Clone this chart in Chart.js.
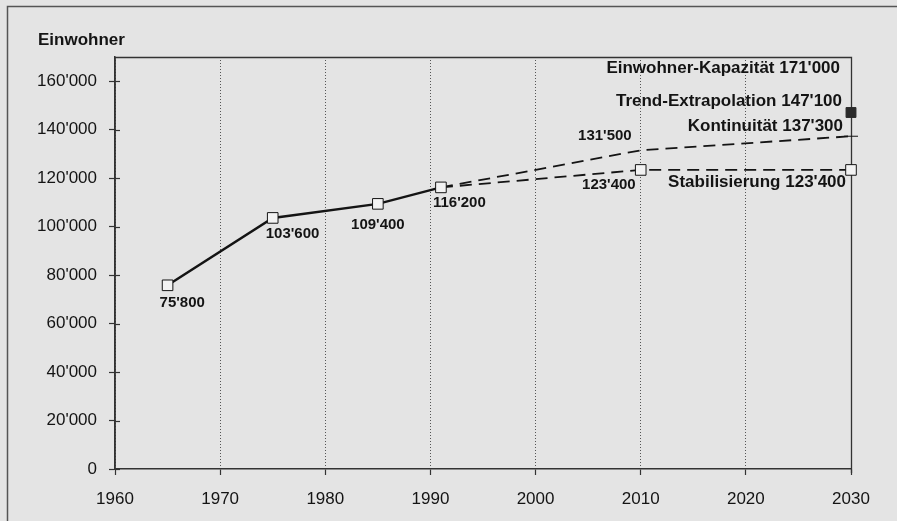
<!DOCTYPE html>
<html>
<head>
<meta charset="utf-8">
<script src="https://cdn.jsdelivr.net/npm/chart.js@4/dist/chart.umd.min.js"></script>
<style>
  html, body { margin: 0; padding: 0; background: #e4e4e4; }
  canvas { display: block; }
</style>
</head>
<body>
<canvas id="c" width="897" height="521"></canvas>
<script>
// ---- data ----
const years = [1965, 1975, 1985, 1991];
const population = [75800, 103600, 109400, 116200];
const forecastYears = [1991, 2010, 2030];
const continuity = [116200, 131500, 137300];
const stabilization = [116200, 123400, 123400];
const trendYear = 2030;
const trendValue = 147100;
const capacityValue = 171000;
const yTickValues = [0, 20000, 40000, 60000, 80000, 100000, 120000, 140000, 160000];
const xTickValues = [1960, 1970, 1980, 1990, 2000, 2010, 2020, 2030];
const scenarioNames = ['Einwohner-Kapazität', 'Trend-Extrapolation', 'Kontinuität', 'Stabilisierung'];
const scenarioValues = [capacityValue, trendValue, continuity[2], stabilization[2]];
const yTitle = 'Einwohner';

const fmt = v => {
  const s = String(Math.round(v));
  if (s.length <= 3) return s;
  return s.slice(0, s.length - 3) + "'" + s.slice(s.length - 3);
};

const FONT = '"Liberation Sans", Arial, Helvetica, sans-serif';
const INK = '#141414';
const BG = '#e4e4e4';

const decor = {
  id: 'decor',
  beforeDraw(chart) {
    const ctx = chart.ctx;
    ctx.save();
    ctx.fillStyle = BG;
    ctx.fillRect(0, 0, chart.width, chart.height);
    ctx.strokeStyle = '#555';
    ctx.lineWidth = 1.5;
    ctx.beginPath();
    ctx.moveTo(7.5, chart.height);
    ctx.lineTo(7.5, 6.5);
    ctx.lineTo(chart.width, 6.5);
    ctx.stroke();
    ctx.restore();
  },
  beforeDatasetsDraw(chart) {
    const ctx = chart.ctx;
    const a = chart.chartArea;
    const ys = chart.scales.y;
    ctx.save();
    ctx.strokeStyle = '#333';
    ctx.lineWidth = 1.3;
    ctx.beginPath();
    ctx.moveTo(a.left, a.top + 0.5);
    ctx.lineTo(a.right + 0.5, a.top + 0.5);
    ctx.lineTo(a.right + 0.5, a.bottom + 4);
    ctx.stroke();
    ctx.beginPath();
    ctx.lineWidth = 1.5;
    ctx.moveTo(a.left, a.top);
    ctx.lineTo(a.left, a.bottom);
    ctx.stroke();
    ctx.lineWidth = 1.2;
    ys.ticks.forEach(t => {
      const py = Math.round(ys.getPixelForValue(t.value)) + 0.5;
      ctx.beginPath();
      ctx.moveTo(a.left, py);
      ctx.lineTo(a.left + 5, py);
      ctx.stroke();
    });
    ctx.restore();
  },
  afterDatasetsDraw(chart) {
    const ctx = chart.ctx;
    const xs = chart.scales.x, ys = chart.scales.y;
    ctx.save();
    ctx.fillStyle = INK;
    ctx.font = 'bold 17px ' + FONT;
    ctx.textBaseline = 'middle';
    ctx.textAlign = 'left';
    ctx.fillText(yTitle, 38, 40);

    ctx.font = 'bold 15px ' + FONT;
    const obsOffsets = [[-8, 18, 'left'], [-7, 16, 'left'], [0, 21, 'center'], [-8, 15, 'left']];
    years.forEach((yr, i) => {
      const px = xs.getPixelForValue(yr), py = ys.getPixelForValue(population[i]);
      const o = obsOffsets[i];
      ctx.textAlign = o[2];
      ctx.fillText(fmt(population[i]), px + o[0], py + o[1]);
    });
    ctx.textAlign = 'right';
    const px = xs.getPixelForValue(forecastYears[1]);
    ctx.fillText(fmt(continuity[1]), px - 9, ys.getPixelForValue(continuity[1]) - 14);
    ctx.fillText(fmt(stabilization[1]), px - 5, ys.getPixelForValue(stabilization[1]) + 15);

    ctx.font = 'bold 17px ' + FONT;
    const rx = xs.getPixelForValue(2030);
    const scenOffsets = [[-11, 14], [-9, -11], [-8, -10], [-5, 12]];
    scenarioNames.forEach((n, i) => {
      const o = scenOffsets[i];
      ctx.fillText(n + ' ' + fmt(scenarioValues[i]), rx + o[0], ys.getPixelForValue(scenarioValues[i]) + o[1]);
    });
    ctx.restore();
  }
};

const xy = (xsArr, ysArr) => xsArr.map((x, i) => ({ x, y: ysArr[i] }));

new Chart(document.getElementById('c'), {
  type: 'line',
  data: {
    datasets: [
      {
        label: 'Kontinuität',
        data: xy(forecastYears, continuity),
        borderColor: INK,
        borderWidth: 1.8,
        borderDash: [12, 7],
        pointStyle: 'line',
        pointRadius: [0, 0, 7],
        pointBorderColor: INK,
        pointBorderWidth: 1,
        clip: false,
        order: 3
      },
      {
        label: 'Stabilisierung',
        data: xy(forecastYears, stabilization),
        borderColor: INK,
        borderWidth: 1.8,
        borderDash: [12, 7],
        pointStyle: 'rect',
        pointRadius: [0, 7.5, 7.5],
        pointBackgroundColor: '#f2f2f2',
        pointBorderColor: INK,
        pointBorderWidth: 1,
        clip: false,
        order: 2
      },
      {
        label: 'Trend-Extrapolation',
        data: [{ x: trendYear, y: trendValue }],
        showLine: false,
        pointStyle: 'rect',
        pointRadius: 7,
        pointBackgroundColor: '#2a2a2a',
        pointBorderColor: '#2a2a2a',
        pointBorderWidth: 1,
        clip: false
      },
      {
        label: 'Einwohner',
        data: xy(years, population),
        borderColor: INK,
        borderWidth: 2.5,
        pointStyle: 'rect',
        pointRadius: 7.5,
        pointBackgroundColor: '#f2f2f2',
        pointBorderColor: INK,
        pointBorderWidth: 1,
        clip: false,
        order: 1
      }
    ]
  },
  options: {
    responsive: false,
    devicePixelRatio: 1,
    animation: false,
    layout: { padding: { left: 0, top: 57, right: 46, bottom: 0 } },
    plugins: { legend: { display: false }, tooltip: { enabled: false } },
    elements: { line: { tension: 0 } },
    scales: {
      x: {
        type: 'linear',
        min: 1960, max: 2030,
        afterFit: s => { s.height = 52; },
        afterBuildTicks: s => { s.ticks = xTickValues.map(v => ({ value: v })); },
        ticks: {
          color: INK, padding: 14,
          font: { family: FONT, size: 17 },
          callback: v => String(v)
        },
        grid: {
          drawOnChartArea: true, color: '#555', lineWidth: 1,
          tickLength: 6, tickColor: '#333', tickWidth: 1.2
        },
        border: { display: true, color: '#333', width: 1.5, dash: [1, 2] }
      },
      y: {
        type: 'linear',
        min: 0, max: 170000,
        afterFit: s => { s.width = 115; },
        afterBuildTicks: s => { s.ticks = yTickValues.map(v => ({ value: v })); },
        ticks: {
          color: INK, padding: 12,
          font: { family: FONT, size: 17 },
          callback: v => fmt(v)
        },
        grid: {
          drawOnChartArea: false, tickLength: 6, tickColor: '#333', tickWidth: 1.2
        },
        border: { display: true, color: '#333', width: 1.5 }
      }
    }
  },
  plugins: [decor]
});
</script>
</body>
</html>
